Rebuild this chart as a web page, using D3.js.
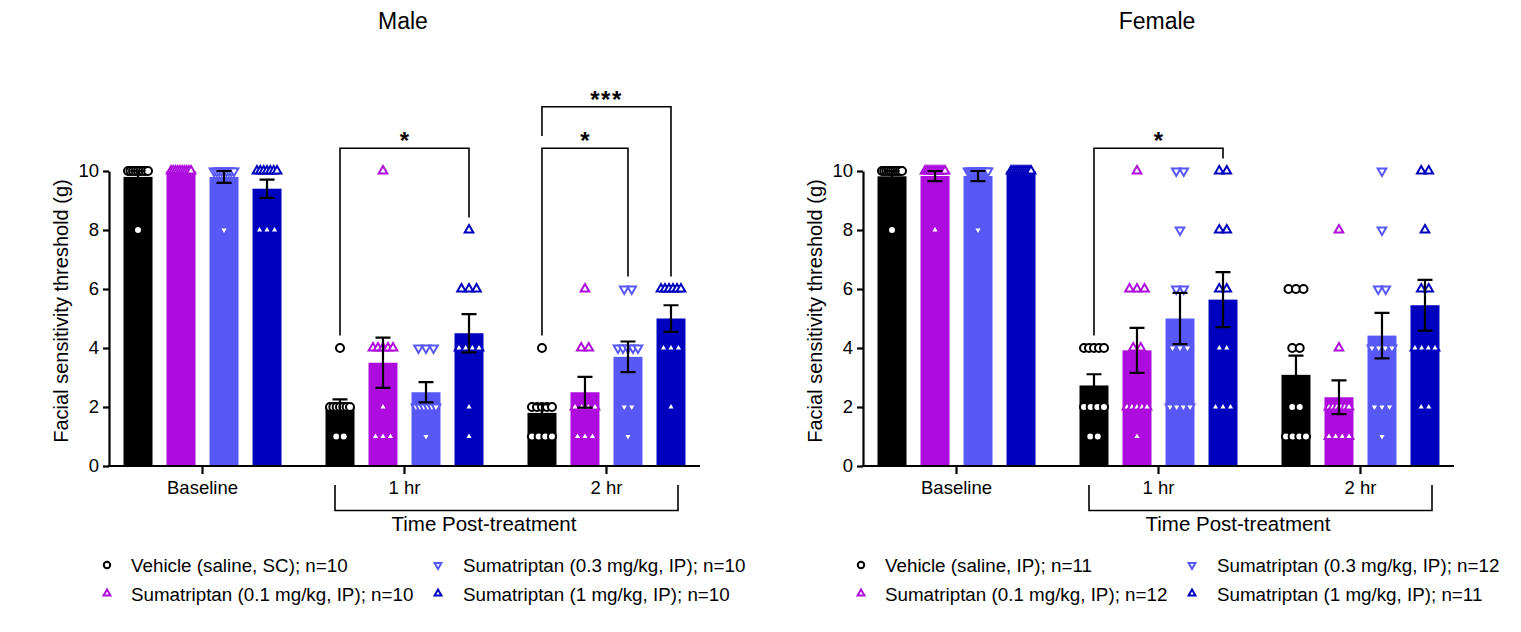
<!DOCTYPE html>
<html><head><meta charset="utf-8">
<script src="https://cdn.jsdelivr.net/npm/d3@7"></script>
<style>
body{margin:0;background:#fff;}
svg{display:block;}
text{font-family:"Liberation Sans", Arial, Helvetica, sans-serif;fill:#000;}
</style>
</head><body>
<svg id="chart" width="1521" height="632"></svg>
<script>
// ---------------- DATA ----------------
const groups = ["Baseline", "1 hr", "2 hr"];
const yTicks = [0, 2, 4, 6, 8, 10];
const panelTitles = ["Male", "Female"];
const xGroupTitle = "Time Post-treatment";
const yTitle = "Facial sensitivity threshold (g)";
const seriesColors = ["#000000", "#AE0CDF", "#5858F6", "#0000BF"];
const seriesShapes = ["circle", "up", "down", "up"];

const maleLegend = ["Vehicle (saline, SC); n=10", "Sumatriptan (0.1 mg/kg, IP); n=10",
                    "Sumatriptan (0.3 mg/kg, IP); n=10", "Sumatriptan (1 mg/kg, IP); n=10"];
const femaleLegend = ["Vehicle (saline, IP); n=11", "Sumatriptan (0.1 mg/kg, IP); n=12",
                      "Sumatriptan (0.3 mg/kg, IP); n=12", "Sumatriptan (1 mg/kg, IP); n=11"];

// bar heights (mean) and SEM, [group][series]
const maleMeans = [[9.8, 10, 9.8, 9.4], [2.0, 3.5, 2.5, 4.5], [1.8, 2.5, 3.7, 5.0]];
const maleSEM   = [[0.2, 0, 0.2, 0.31], [0.26, 0.85, 0.34, 0.65], [0.29, 0.52, 0.52, 0.45]];
const femaleMeans = [[9.82, 9.83, 9.83, 10], [2.73, 3.92, 5.0, 5.64], [3.09, 2.33, 4.42, 5.45]];
const femaleSEM   = [[0.18, 0.17, 0.17, 0], [0.38, 0.76, 0.87, 0.93], [0.65, 0.57, 0.77, 0.86]];

// individual animals, [group][series]
const malePoints = [
  [[10,10,10,10,10,10,10,10,10,8], [10,10,10,10,10,10,10,10,10,10],
   [10,10,10,10,10,10,10,10,10,8], [10,10,10,10,10,10,10,8,8,8]],
  [[4,2,2,2,2,2,2,2,1,1], [10,4,4,4,4,4,2,1,1,1],
   [4,4,4,2,2,2,2,2,2,1], [8,6,6,6,4,4,4,4,2,1]],
  [[4,2,2,2,2,2,1,1,1,1], [6,4,4,2,2,2,2,1,1,1],
   [6,6,4,4,4,4,4,2,2,1], [6,6,6,6,6,6,4,4,4,2]]
];
const femalePoints = [
  [[10,10,10,10,10,10,10,10,10,10,8], [10,10,10,10,10,10,10,10,10,10,10,8],
   [10,10,10,10,10,10,10,10,10,10,10,8], [10,10,10,10,10,10,10,10,10,10,10]],
  [[4,4,4,4,4,2,2,2,2,1,1], [10,6,6,6,4,4,2,2,2,2,2,1],
   [10,10,8,6,6,4,4,4,2,2,2,2], [10,10,8,8,6,6,4,4,2,2,2]],
  [[6,6,6,4,4,2,2,1,1,1,1], [8,4,2,2,2,2,2,2,1,1,1,1],
   [10,8,6,6,4,4,4,4,2,2,2,1], [10,10,8,6,6,4,4,4,4,2,2]]
];

const maleBrackets = [
  {group: 1, from: 0, to: 3, level: 10.77, label: "*"},
  {group: 2, from: 0, to: 2, level: 10.77, label: "*"},
  {group: 2, from: 0, to: 3, level: 12.18, label: "***"}
];
const femaleBrackets = [
  {group: 1, from: 0, to: 3, level: 10.77, label: "*"}
];

// ---------------- DRAW ----------------
const svg = d3.select("#chart");

function symbolPath(shape, big) {
  if (shape === "circle") return null;
  return d3.symbol(d3.symbolTriangle, big ? 32 : 20)();
}

function drawMarker(sel, shape, color, big) {
  if (shape === "circle") {
    sel.append("circle").attr("r", big ? 4 : 3.2)
      .attr("fill", "#fff").attr("stroke", color).attr("stroke-width", 2);
  } else {
    sel.append("path").attr("d", symbolPath(shape, big))
      .attr("transform", shape === "down" ? "rotate(180)" : null)
      .attr("fill", "#fff").attr("stroke", color).attr("stroke-width", 2)
      .attr("stroke-linejoin", "miter");
  }
}

function drawPanel(cfg) {
  const x0 = cfg.left, W = 591;
  const g = svg.append("g");
  const x = d3.scalePoint().domain(groups).range([x0, x0 + W]).padding(0.463);
  const xs = d3.scaleBand().domain([0, 1, 2, 3]).range([-79, 79]).paddingInner(0.326);
  const y = d3.scaleLinear().domain([0, 10]).range([466, 171]);
  const bw = xs.bandwidth();
  const cx = (gi, si) => x(groups[gi]) + xs(si) + bw / 2;

  // title
  g.append("text").attr("x", x0 + 294).attr("y", 29).attr("text-anchor", "middle")
    .attr("font-size", 23).text(cfg.title);

  // bars
  cfg.means.forEach((row, gi) => row.forEach((m, si) => {
    g.append("rect").attr("x", x(groups[gi]) + xs(si)).attr("width", bw)
      .attr("y", y(m)).attr("height", y(0) - y(m)).attr("fill", seriesColors[si]);
  }));

  // points
  cfg.points.forEach((row, gi) => row.forEach((vals, si) => {
    const byVal = d3.group(vals, v => v);
    byVal.forEach((arr, v) => {
      const n = arr.length;
      const sp = n > 1 ? Math.min(7.5, 20 / (n - 1)) : 0;
      arr.forEach((_, k) => {
        const px = cx(gi, si) + (k - (n - 1) / 2) * sp;
        const mg = g.append("g").attr("transform", `translate(${px},${y(v)})`);
        drawMarker(mg, seriesShapes[si], seriesColors[si], true);
      });
    });
  }));

  // error bars
  cfg.means.forEach((row, gi) => row.forEach((m, si) => {
    const s = cfg.sem[gi][si];
    if (!s) return;
    const c = cx(gi, si);
    const top = Math.min(m + s, 10 + 0.0), bot = m - s;
    g.append("path")
      .attr("d", `M${c},${y(bot)}V${y(m + s)}M${c - 7.5},${y(m + s)}H${c + 7.5}M${c - 7.5},${y(bot)}H${c + 7.5}`)
      .attr("stroke", "#000").attr("stroke-width", 2.2).attr("fill", "none");
  }));

  // y axis
  const ya = g.append("g").attr("transform", `translate(${x0},0)`)
    .call(d3.axisLeft(y).tickValues(yTicks).tickSize(6).tickPadding(4).tickSizeOuter(0));
  ya.select(".domain").attr("stroke-width", 2.2);
  ya.selectAll(".tick line").attr("stroke-width", 2.2);
  ya.selectAll(".tick text").attr("font-size", 18.5).attr("font-family", '"Liberation Sans", Arial, sans-serif');

  // y title
  g.append("text").attr("transform", `translate(${x0 - 48.5},311) rotate(-90)`)
    .attr("text-anchor", "middle").attr("dominant-baseline", "central")
    .attr("font-size", 20).text(yTitle);

  // x axis
  g.append("line").attr("x1", x0 - 1).attr("x2", x0 + W).attr("y1", y(0)).attr("y2", y(0))
    .attr("stroke", "#000").attr("stroke-width", 2.2);
  groups.forEach(gr => {
    g.append("line").attr("x1", x(gr)).attr("x2", x(gr)).attr("y1", y(0)).attr("y2", y(0) + 8)
      .attr("stroke", "#000").attr("stroke-width", 2.2);
    g.append("text").attr("x", x(gr)).attr("y", 494).attr("text-anchor", "middle")
      .attr("font-size", 18.5).text(gr);
  });

  // group bracket
  g.append("path").attr("d", `M${x0 + 226},485V510.5H${x0 + 569}V485`)
    .attr("fill", "none").attr("stroke", "#000").attr("stroke-width", 1.6);
  g.append("text").attr("x", x0 + 375).attr("y", 531).attr("text-anchor", "middle")
    .attr("font-size", 20.5).text(xGroupTitle);

  // significance brackets
  const sorted = cfg.brackets.slice().sort((a, b) => a.level - b.level);
  sorted.forEach(b => {
    const endFor = (si) => {
      const lower = sorted.filter(o => o !== b && o.group === b.group && o.level < b.level &&
        (o.from === si || o.to === si));
      if (lower.length) return d3.max(lower, o => o.level) + 0.42;
      return d3.max(cfg.points[b.group][si]) + 0.42;
    };
    const xl = cx(b.group, b.from), xr = cx(b.group, b.to);
    g.append("path")
      .attr("d", `M${xl},${y(endFor(b.from))}V${y(b.level)}H${xr}V${y(endFor(b.to))}`)
      .attr("fill", "none").attr("stroke", "#000").attr("stroke-width", 1.6);
    g.append("text").attr("x", (xl + xr) / 2).attr("y", y(b.level) + 1)
      .attr("text-anchor", "middle").attr("font-size", 24).attr("font-weight", "bold")
      .attr("letter-spacing", b.label.length > 1 ? 1.5 : 0).text(b.label);
  });

  // legend
  const cols = [{m: -2, t: 22}, {m: 329, t: 354}];
  const order = [[0, 0, 0], [1, 0, 1], [2, 1, 0], [3, 1, 1]]; // series, col, row
  order.forEach(([si, ci, ri]) => {
    const yy = 565 + ri * 28.5;
    const mg = g.append("g").attr("transform", `translate(${x0 + cols[ci].m},${yy})`);
    drawMarker(mg, seriesShapes[si], seriesColors[si], false);
    g.append("text").attr("x", x0 + cols[ci].t).attr("y", yy + 7)
      .attr("font-size", 18.8).text(cfg.legend[si]);
  });
}

drawPanel({left: 109, title: panelTitles[0], means: maleMeans, sem: maleSEM,
           points: malePoints, brackets: maleBrackets, legend: maleLegend});
drawPanel({left: 863, title: panelTitles[1], means: femaleMeans, sem: femaleSEM,
           points: femalePoints, brackets: femaleBrackets, legend: femaleLegend});
</script>
</body></html>
